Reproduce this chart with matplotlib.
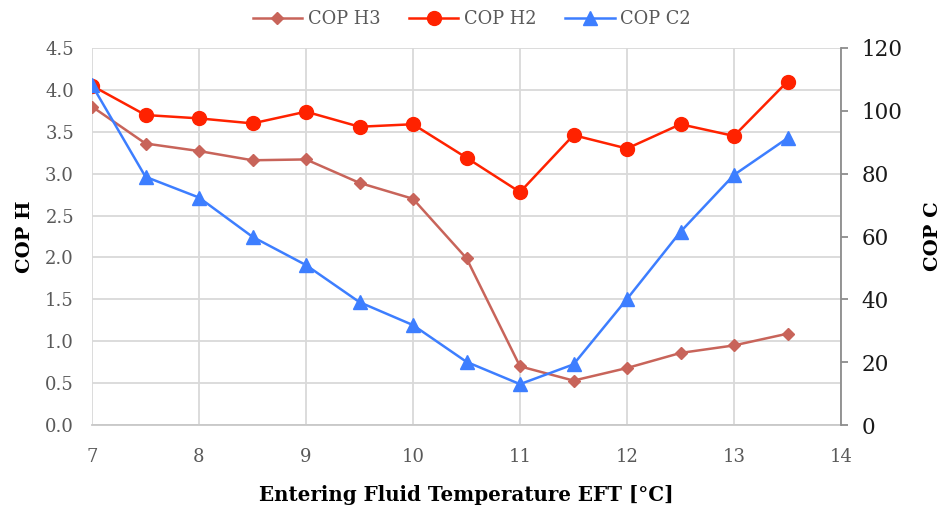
import numpy as np
import matplotlib
matplotlib.use("Agg")
import matplotlib.pyplot as plt

plt.rcParams['font.family'] = ['DejaVu Serif']

# data
eft = [7, 7.5, 8, 8.5, 9, 9.5, 10, 10.5, 11, 11.5, 12, 12.5, 13, 13.5]
cop_h3 = [3.80, 3.36, 3.27, 3.16, 3.17, 2.89, 2.70, 1.99, 0.70, 0.53, 0.68, 0.86, 0.95, 1.09]
cop_h2 = [4.05, 3.70, 3.66, 3.60, 3.74, 3.56, 3.59, 3.19, 2.78, 3.46, 3.30, 3.59, 3.45, 4.10]
cop_c2 = [108.2, 79.0, 72.4, 59.9, 50.9, 39.1, 31.8, 20.1, 13.0, 19.3, 40.1, 61.5, 79.6, 91.3]

c_h3 = '#c8645a'
c_h2 = '#ff2200'
c_c2 = '#3d7eff'
grid_c = '#d9d9d9'
tick_c = '#595959'

fig = plt.figure(figsize=(9.43, 5.08), dpi=100)
ax = fig.add_axes([92/943, 1-425/508, (841-92)/943, (425-48)/508])
ax2 = ax.twinx()

l1, = ax.plot(eft, cop_h3, color=c_h3, marker='D', markersize=6.5, lw=1.8, label='COP H3')
l2, = ax.plot(eft, cop_h2, color=c_h2, marker='o', markersize=10, lw=1.8, label='COP H2')
l3, = ax2.plot(eft, cop_c2, color=c_c2, marker='^', markersize=10, lw=1.8, label='COP C2')

ax.set_xlim(7, 14)
ax.set_ylim(0, 4.5)
ax2.set_ylim(0, 120)
ax.set_xticks(np.arange(7, 15, 1))
ax.set_yticks(np.arange(0, 4.51, 0.5))
ax.set_yticklabels([f'{v:.1f}' for v in np.arange(0, 4.51, 0.5)])
ax2.set_yticks(np.arange(0, 121, 20))

ax.grid(True, color=grid_c, lw=1.3)
ax.set_axisbelow(True)
for s in ['top', 'left', 'right']:
    ax.spines[s].set_visible(False)
ax.spines['bottom'].set_color('#c8c8c8')
ax.spines['bottom'].set_linewidth(1.3)
for s in ['top', 'left', 'bottom']:
    ax2.spines[s].set_visible(False)
ax2.spines['right'].set_color('#8c8c8c')
ax2.spines['right'].set_linewidth(1.3)

ax.tick_params(axis='both', length=0, labelsize=13, labelcolor=tick_c, pad=13)
ax.tick_params(axis='x', pad=16.5)
ax2.tick_params(axis='y', length=5, width=1.3, color='#8c8c8c', labelsize=15.5, labelcolor='#1a1a1a', pad=10)

ax.set_ylabel('COP H', fontsize=14, fontweight='bold', labelpad=8)
ax2.set_ylabel('COP C', fontsize=14, fontweight='bold', labelpad=15)
ax.set_xlabel('Entering Fluid Temperature EFT [°C]', fontsize=14.3, fontweight='bold', labelpad=14)

leg = fig.legend(handles=[l1, l2, l3], loc='upper center', bbox_to_anchor=(0.5, 1.012),
                 ncol=3, frameon=False, fontsize=12.8, handlelength=2.8,
                 handletextpad=0.3, columnspacing=1.6)
for t in leg.get_texts():
    t.set_color(tick_c)

fig.savefig('out.png', dpi=100)
